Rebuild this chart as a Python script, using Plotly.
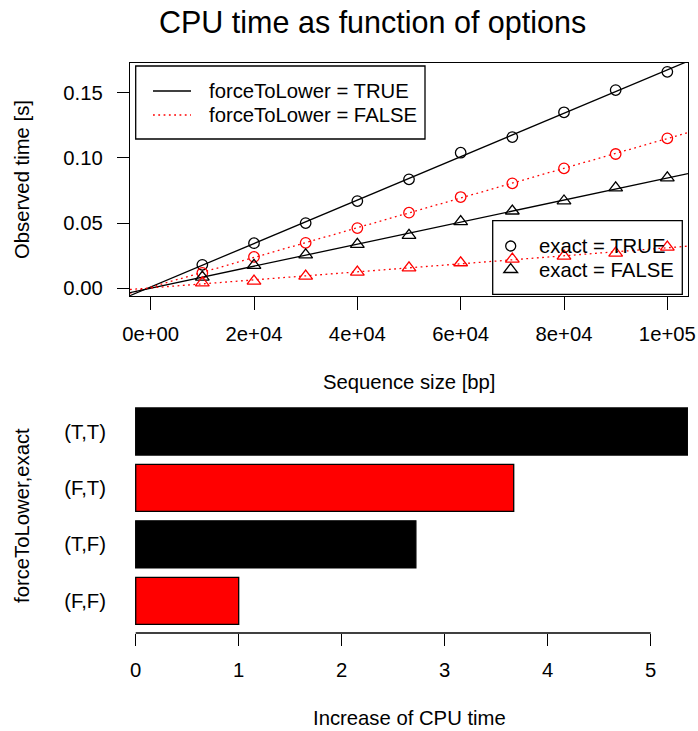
import numpy as np
import plotly.graph_objects as go

# ---------------- data ----------------
seq_size = [10000, 20000, 30000, 40000, 50000, 60000, 70000, 80000, 90000, 100000]
# forceToLower = TRUE, exact = TRUE
time_TT = [0.0180, 0.0346, 0.0500, 0.0669, 0.0836, 0.1040, 0.1160, 0.1350, 0.1520, 0.1660]
# forceToLower = FALSE, exact = TRUE
time_FT = [0.0118, 0.0241, 0.0349, 0.0462, 0.0580, 0.0700, 0.0805, 0.0920, 0.1030, 0.1150]
# forceToLower = TRUE, exact = FALSE
time_TF = [0.0086, 0.0176, 0.0257, 0.0337, 0.0406, 0.0511, 0.0593, 0.0670, 0.0770, 0.0847]
# forceToLower = FALSE, exact = FALSE
time_FF = [0.0042, 0.0055, 0.0093, 0.0124, 0.0157, 0.0196, 0.0224, 0.0247, 0.0270, 0.0316]

x_tick_vals = [0, 20000, 40000, 60000, 80000, 100000]
x_tick_text = ["0e+00", "2e+04", "4e+04", "6e+04", "8e+04", "1e+05"]
y_tick_vals = [0.00, 0.05, 0.10, 0.15]
y_tick_text = ["0.00", "0.05", "0.10", "0.15"]

bar_labels = ["(T,T)", "(F,T)", "(T,F)", "(F,F)"]
bar_values = [5.36, 3.67, 2.72, 1.00]
bar_colors = ["black", "red", "black", "red"]
bar_ticks = [0, 1, 2, 3, 4, 5]

legend1_labels = ["forceToLower = TRUE", "forceToLower = FALSE"]
legend2_labels = ["exact = TRUE", "exact = FALSE"]

# ---------------- geometry helpers ----------------
W, H = 698, 731
def PX(x):
    return x / W
def PY(y):
    return 1 - y / H

FONT = "Liberation Sans, Arial, Helvetica, sans-serif"
FS = 20.3
LW = 1.3
X_RANGE = [-4000, 104000]
Y_RANGE = [-0.0059, 0.1728]
DOT = "1.8px,3.5px"

fig = go.Figure()

series = [
    (time_TT, "circle-open", "black", "solid", 10.5),
    (time_FT, "circle-open", "red", DOT, 10.5),
    (time_TF, "triangle-up-open", "black", "solid", 12),
    (time_FF, "triangle-up-open", "red", DOT, 12),
]
for ys, sym, col, dash, sz in series:
    slope, icpt = np.polyfit(seq_size, ys, 1)
    xr = np.array(X_RANGE, dtype=float)
    fig.add_trace(go.Scatter(x=xr, y=icpt + slope * xr, mode="lines",
                             line=dict(color=col, width=LW, dash=dash),
                             xaxis="x", yaxis="y", hoverinfo="skip"))
    fig.add_trace(go.Scatter(x=seq_size, y=ys, mode="markers",
                             marker=dict(symbol=sym, size=sz, color=col,
                                         line=dict(color=col, width=LW)),
                             xaxis="x", yaxis="y"))

fig.add_trace(go.Bar(x=bar_values, y=bar_labels, orientation="h",
                     marker=dict(color=bar_colors, line=dict(color="black", width=LW)),
                     xaxis="x2", yaxis="y2"))

axis_common = dict(showgrid=False, zeroline=False, tickcolor="black", tickwidth=LW,
                   tickfont=dict(family=FONT, size=FS, color="black"))

fig.update_layout(
    width=W, height=H, autosize=False,
    margin=dict(l=0, r=0, t=0, b=0, autoexpand=False),
    paper_bgcolor="white", plot_bgcolor="white",
    showlegend=False, bargap=1/6,
    font=dict(family=FONT, color="black"),
    xaxis=dict(domain=[PX(130), PX(688)], range=X_RANGE, anchor="y",
               tickvals=x_tick_vals, ticktext=x_tick_text,
               ticks="outside", ticklen=13, ticklabelstandoff=6,
               showline=True, mirror=True, linecolor="black", linewidth=LW,
               automargin=False, **axis_common),
    yaxis=dict(domain=[PY(296), PY(63)], range=Y_RANGE, anchor="x",
               tickvals=y_tick_vals, ticktext=y_tick_text,
               ticks="outside", ticklen=12, ticklabelstandoff=10,
               showline=True, mirror=True, linecolor="black", linewidth=LW,
               automargin=False, **axis_common),
    xaxis2=dict(domain=[PX(130), PX(688)], range=[-0.0553, 5.362], anchor="y2",
                tickvals=bar_ticks, ticktext=[str(t) for t in bar_ticks],
                ticks="outside", ticklen=12, ticklabelstandoff=7,
                showline=False, automargin=False, **axis_common),
    yaxis2=dict(domain=[PY(633), PY(399.3)], range=[-0.57, 3.57], anchor="x2",
                type="category", categoryorder="array",
                categoryarray=list(reversed(bar_labels)),
                ticks="", showline=False, ticklabelstandoff=23,
                automargin=False, **axis_common),
)

shapes = []
# bottom x-axis line from first to last tick
shapes.append(dict(type="line", xref="x2", yref="paper",
                   x0=bar_ticks[0], x1=bar_ticks[-1], y0=PY(633), y1=PY(633),
                   line=dict(color="black", width=LW)))
# legend 1 box and line samples
shapes.append(dict(type="rect", xref="paper", yref="paper",
                   x0=PX(135.7), x1=PX(425), y0=PY(139), y1=PY(66),
                   line=dict(color="black", width=LW)))
shapes.append(dict(type="line", xref="paper", yref="paper",
                   x0=PX(153), x1=PX(191), y0=PY(91), y1=PY(91),
                   line=dict(color="black", width=LW)))
shapes.append(dict(type="line", xref="paper", yref="paper",
                   x0=PX(153), x1=PX(191), y0=PY(115), y1=PY(115),
                   line=dict(color="red", width=LW, dash=DOT)))
# legend 2 box and symbols
shapes.append(dict(type="rect", xref="paper", yref="paper",
                   x0=PX(492.7), x1=PX(682.3), y0=PY(294.3), y1=PY(220.7),
                   line=dict(color="black", width=LW)))
cx, cy = 510.7, 246
shapes.append(dict(type="circle", xref="paper", yref="paper",
                   x0=PX(cx - 5), x1=PX(cx + 5), y0=PY(cy + 5), y1=PY(cy - 5),
                   line=dict(color="black", width=LW)))
tx, ty = 510.7, 269.5
shapes.append(dict(type="path", xref="paper", yref="paper",
                   path="M {:.5f},{:.5f} L {:.5f},{:.5f} L {:.5f},{:.5f} Z".format(
                       PX(tx - 6.93), PY(ty + 3), PX(tx + 6.93), PY(ty + 3), PX(tx), PY(ty - 6)),
                   line=dict(color="black", width=LW)))
fig.update_layout(shapes=shapes)

ann = []
def text(x, y, s, size=FS, xanchor="center", angle=0):
    ann.append(dict(x=PX(x), y=PY(y), xref="paper", yref="paper", text=s,
                    showarrow=False, xanchor=xanchor, yanchor="middle", textangle=angle,
                    font=dict(family=FONT, size=size, color="black")))

text(372, 22, "CPU time as function of options", size=30.5)
text(409, 382, "Sequence size [bp]")
text(409, 718, "Increase of CPU time")
text(22, 180, "Observed time [s]", angle=-90)
text(22, 516, "forceToLower,exact", angle=-90)
text(207, 91, legend1_labels[0], xanchor="left")
text(207, 115, legend1_labels[1], xanchor="left")
text(537, 246, legend2_labels[0], xanchor="left")
text(537, 269.5, legend2_labels[1], xanchor="left")
fig.update_layout(annotations=ann)

fig.write_html(
    "out.html",
    config={"displayModeBar": False, "responsive": False},
    post_script=(
        "document.body.style.margin='0px';document.body.style.padding='0px';"
        "document.body.style.overflow='hidden';"
        "document.documentElement.style.overflow='hidden';"
    ),
)
